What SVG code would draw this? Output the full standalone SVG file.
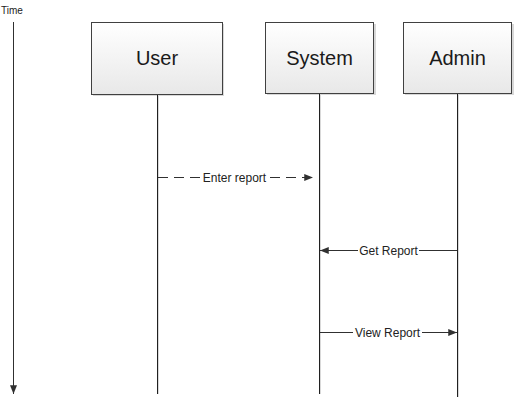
<svg xmlns="http://www.w3.org/2000/svg" width="526" height="403" viewBox="0 0 526 403">
<style>
.box{fill:url(#g);stroke:#404040;stroke-width:1}
.shadow{fill:#d8d8d8}
.title{font-family:"Liberation Sans",Arial,sans-serif;font-size:20px;fill:#1a1a1a;text-anchor:middle}
.life{stroke:#202020;stroke-width:1}
.lifesh{stroke:#d9d9d9;stroke-width:1}
.msg{stroke:#303030;stroke-width:1;fill:none}
.lbl{font-family:"Liberation Sans",Arial,sans-serif;font-size:12px;fill:#222;text-anchor:middle}
.time{font-family:"Liberation Sans",Arial,sans-serif;font-size:10px;fill:#222}
.lblbg{fill:#fff}
</style>
<defs>
<linearGradient id="g" x1="0" y1="0" x2="0" y2="1">
<stop offset="0" stop-color="#ffffff"/>
<stop offset="1" stop-color="#e8e8e8"/>
</linearGradient>
<marker id="arr" viewBox="0 0 10 8" refX="10" refY="4" markerWidth="9" markerHeight="7" orient="auto" markerUnits="userSpaceOnUse">
<path d="M0,0 L10,4 L0,8 Z" fill="#303030"/>
</marker>
</defs>
<rect width="526" height="403" fill="#fff"/>
<g id="time">
<text x="1" y="14" class="time">Time</text>
<line x1="13.5" y1="22" x2="13.5" y2="394" class="msg" marker-end="url(#arr)"/>
</g>
<g id="user">
<rect x="93" y="24" width="131" height="72" class="shadow"/>
<rect x="91.5" y="22.5" width="131" height="72" class="box"/>
<line x1="158.5" y1="95" x2="158.5" y2="394" class="lifesh"/>
<line x1="157.5" y1="95" x2="157.5" y2="394" class="life"/>
<text x="157" y="65" class="title">User</text>
</g>
<g id="system">
<rect x="267" y="24" width="109" height="71" class="shadow"/>
<rect x="265.5" y="22.5" width="108" height="71" class="box"/>
<line x1="320.5" y1="94" x2="320.5" y2="394" class="lifesh"/>
<line x1="319.5" y1="94" x2="319.5" y2="394" class="life"/>
<text x="319.5" y="65" class="title">System</text>
</g>
<g id="admin">
<rect x="405" y="24" width="109" height="71" class="shadow"/>
<rect x="403.5" y="22.5" width="108" height="71" class="box"/>
<line x1="458.5" y1="94" x2="458.5" y2="397" class="lifesh"/>
<line x1="457.5" y1="94" x2="457.5" y2="397" class="life"/>
<text x="457.5" y="65" class="title">Admin</text>
</g>
<g id="connectors">
<line x1="158" y1="177.5" x2="313" y2="177.5" class="msg" stroke-dasharray="10,6" marker-end="url(#arr)"/>
<rect x="202" y="170" width="65" height="14" class="lblbg"/>
<text x="234.5" y="181.5" class="lbl">Enter report</text>
<line x1="457" y1="250.5" x2="320" y2="250.5" class="msg" marker-end="url(#arr)"/>
<rect x="358" y="243" width="61" height="14" class="lblbg"/>
<text x="388.5" y="254.5" class="lbl">Get Report</text>
<line x1="320" y1="332.5" x2="457" y2="332.5" class="msg" marker-end="url(#arr)"/>
<rect x="353" y="325" width="69" height="14" class="lblbg"/>
<text x="387.5" y="336.5" class="lbl">View Report</text>
</g>
</svg>
